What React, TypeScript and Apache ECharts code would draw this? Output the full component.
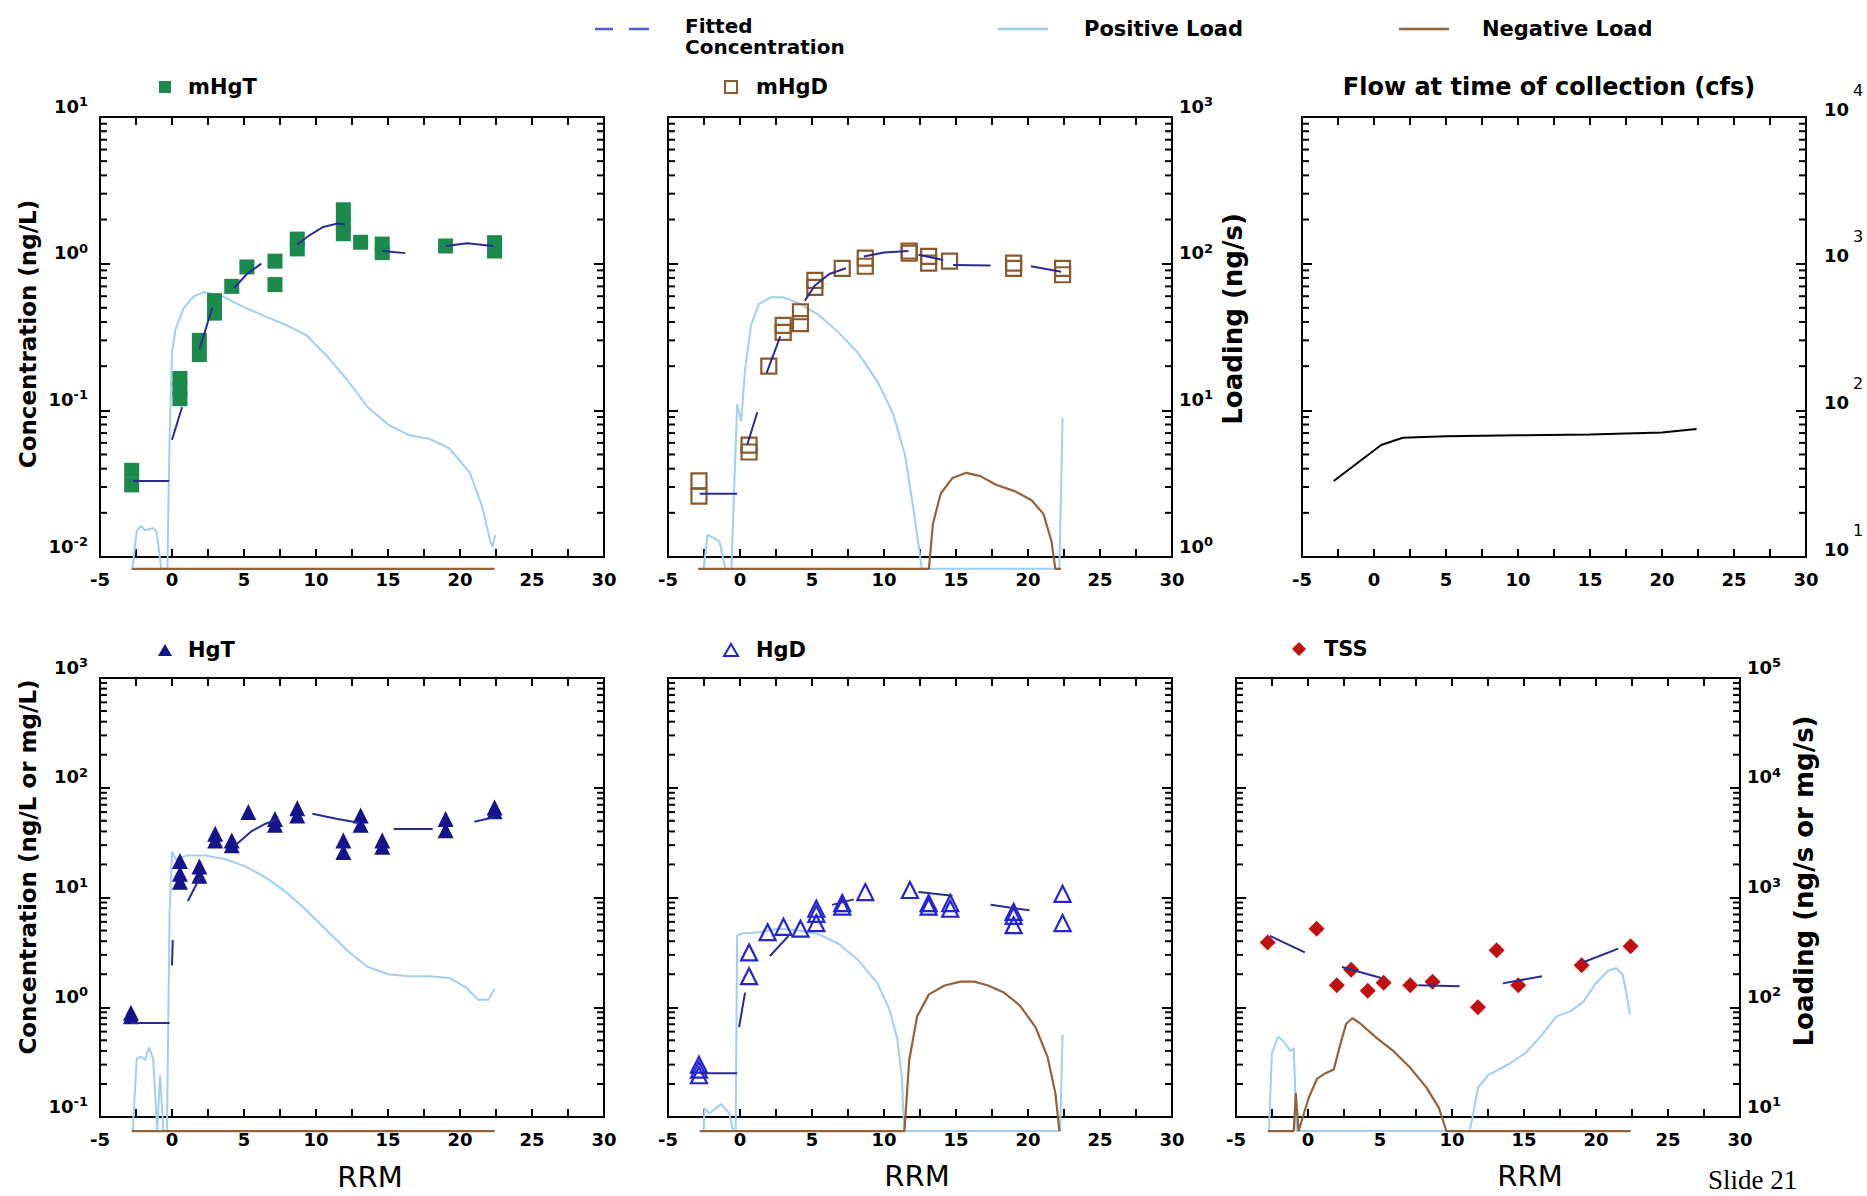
import React, { useEffect, useRef } from "react";
import * as echarts from "echarts";

type Pt = [number, number];

const FONT = "DejaVu Sans";

// ---------------- data (x = RRM) ----------------
const X_RANGE: Pt = [-5, 30];
const X_TICK_STEP = 2.5;
const X_LABEL_STEP = 5;

const CONC_TOP: Pt = [0.01, 10];
const LOAD_TOP: Pt = [1, 1000];
const FLOW_RANGE: Pt = [10, 10000];
const CONC_BOT: Pt = [0.1, 1000];
const LOAD_BOT: Pt = [10, 100000];
// a load of zero is drawn just beneath each frame
const ZERO_TOP = 0.83;
const ZERO_BOT = 7.45;

const MHGT_POINTS: Pt[] = [
  [-2.8, 0.039], [-2.8, 0.031], [0.55, 0.165], [0.55, 0.14], [0.55, 0.12],
  [1.9, 0.3], [1.9, 0.24], [2.95, 0.56], [2.95, 0.46], [4.15, 0.7], [5.2, 0.95],
  [7.15, 1.04], [7.15, 0.72], [8.7, 1.47], [8.7, 1.26], [11.9, 2.33], [11.9, 1.88],
  [11.9, 1.6], [13.1, 1.4], [14.6, 1.36], [14.6, 1.19], [19.0, 1.32], [22.4, 1.39], [22.4, 1.22],
];
const MHGT_FIT: (Pt | null)[] = [
  [-2.7, 0.033], [-0.2, 0.033], null, [0.0, 0.063], [0.7, 0.105], null,
  [1.9, 0.26], [2.8, 0.5], null, [4.3, 0.68], [5.2, 0.85], [6.2, 1.0], null,
  [8.7, 1.35], [9.5, 1.55], [10.5, 1.78], [11.5, 1.88], [12.0, 1.86], null,
  [14.6, 1.22], [16.2, 1.18], null, [19.0, 1.32], [20.5, 1.38], [22.3, 1.32],
];
const MHGT_POS: Pt[] = [
  [-2.75, 0], [-2.45, 1.5], [-2.16, 1.63], [-1.88, 1.52], [-1.3, 1.57], [-1.08, 1.5],
  [-0.74, 0], [-0.32, 0], [-0.17, 6.4], [0.0, 24.8], [0.25, 36], [0.82, 50], [1.53, 60],
  [2.24, 64], [2.95, 62], [3.66, 59], [5.08, 50], [6.5, 43.7], [7.92, 38.2], [9.33, 32.5],
  [10.75, 23.5], [12.17, 16.1], [13.59, 10.5], [15.0, 8.0], [16.43, 6.8], [17.85, 6.4],
  [19.27, 5.5], [20.69, 3.75], [21.54, 2.2], [22.1, 1.28], [22.25, 1.18], [22.45, 1.42],
];
const MHGT_NEG: Pt[] = [[-2.8, 0], [22.4, 0]];

const MHGD_POINTS: Pt[] = [
  [-2.85, 0.033], [-2.85, 0.026], [0.63, 0.058], [0.63, 0.052], [2.0, 0.2], [3.0, 0.38],
  [3.0, 0.34], [4.2, 0.47], [4.2, 0.39], [5.2, 0.77], [5.2, 0.69], [7.1, 0.93], [8.7, 1.09],
  [8.7, 0.96], [11.75, 1.22], [11.75, 1.18], [13.1, 1.12], [13.1, 1.01], [14.55, 1.04],
  [19.0, 1.01], [19.0, 0.93], [22.4, 0.93], [22.4, 0.84],
];
const MHGD_FIT: (Pt | null)[] = [
  [-2.8, 0.027], [-0.2, 0.027], null, [0.5, 0.058], [1.2, 0.097], null,
  [1.85, 0.18], [2.8, 0.32], null, [4.5, 0.56], [5.2, 0.71], [6.2, 0.85], [7.35, 0.93], null,
  [8.6, 1.12], [10.0, 1.19], [11.7, 1.22], null, [12.4, 1.15], [14.1, 1.06], null,
  [14.8, 0.98], [17.4, 0.97], null, [20.2, 0.96], [22.3, 0.88],
];
const MHGD_POS: Pt[] = [
  [-2.53, 0], [-2.25, 1.42], [-1.84, 1.35], [-1.43, 1.28], [-1.02, 0], [-0.6, 0],
  [-0.2, 11.0], [0.08, 8.4], [0.35, 18.9], [0.76, 38], [1.31, 53], [2.14, 59], [2.96, 59],
  [4.06, 54], [5.43, 45], [6.8, 34.3], [8.18, 24.8], [9.55, 15.7], [10.65, 9.4],
  [11.47, 4.9], [12.02, 2.19], [12.43, 1.15], [12.62, 0], [22.18, 0], [22.4, 8.9],
];
const MHGD_NEG: Pt[] = [
  [-2.9, 0], [13.12, 0], [13.39, 1.67], [13.94, 2.71], [14.76, 3.46], [15.72, 3.75],
  [16.69, 3.56], [17.78, 3.11], [19.16, 2.79], [20.25, 2.44], [21.08, 1.96], [21.63, 1.28],
  [21.9, 0], [22.3, 0],
];

const FLOW_X = [-2.8, 0.5, 2.0, 5, 10, 15, 20, 22.4];
const FLOW_CFS = [33, 58, 65, 66.5, 67.5, 68.5, 70.5, 74.5];

const HGT_POINTS: Pt[] = [
  [-2.85, 0.89], [-2.85, 0.83], [0.55, 21.5], [0.55, 16.5], [0.55, 13.9], [1.9, 19.2],
  [1.9, 15.8], [3.0, 38], [3.0, 33], [4.15, 33], [4.15, 30], [5.3, 60], [7.15, 52],
  [7.15, 46], [8.7, 65], [8.7, 56], [11.9, 33], [11.9, 26], [13.1, 56], [13.1, 46],
  [14.6, 33], [14.6, 29], [19.0, 52], [19.0, 41], [22.4, 66], [22.4, 61],
];
const HGT_FIT: (Pt | null)[] = [
  [-2.85, 0.72], [-0.17, 0.72], null, [0.0, 2.4], [0.05, 4.1], null, [1.1, 9.3], [1.95, 15.3], null,
  [4.4, 30], [5.5, 40], [6.5, 47], [7.35, 52], null, [9.75, 58], [11.5, 52], [13.0, 48], null,
  [15.4, 42], [18.1, 42], null, [21.0, 49], [22.4, 54],
];
const HGT_POS: Pt[] = [
  [-2.73, 0], [-2.45, 34], [-2.16, 35.5], [-1.88, 33], [-1.59, 43], [-1.31, 34], [-1.03, 0],
  [-0.83, 24], [-0.6, 0], [-0.35, 0], [-0.17, 708], [0.0, 2610], [0.25, 2240], [1.1, 2420],
  [2.24, 2420], [3.66, 2240], [5.08, 1920], [6.5, 1525], [7.92, 1120], [9.33, 764],
  [10.75, 501], [12.17, 329], [13.59, 233], [15.0, 200], [16.43, 192], [17.85, 192],
  [19.27, 185], [20.4, 152], [21.26, 117], [21.97, 117], [22.39, 147],
];
const HGT_NEG: Pt[] = [[-2.8, 0], [22.4, 0]];

const HGD_POINTS: Pt[] = [
  [-2.85, 0.3], [-2.85, 0.27], [-2.85, 0.24], [0.63, 3.16], [0.63, 1.92], [1.92, 4.83],
  [3.02, 5.41], [4.2, 5.2], [5.3, 7.9], [5.3, 7.1], [5.3, 5.85], [7.1, 8.9], [7.1, 8.25],
  [8.7, 11.2], [11.8, 11.7], [13.1, 8.9], [13.1, 8.25], [14.6, 8.9], [14.6, 7.9],
  [19.0, 7.4], [19.0, 6.8], [19.0, 5.6], [22.4, 10.8], [22.4, 5.85],
];
const HGD_FIT: (Pt | null)[] = [
  [-2.8, 0.25], [-0.2, 0.25], null, [-0.06, 0.66], [0.35, 1.36], null,
  [2.08, 2.93], [3.37, 4.47], null, [6.4, 8.57], [7.9, 9.62], null,
  [12.4, 11.2], [14.76, 10.4], null, [17.4, 8.57], [20.1, 7.64],
];
const HGD_POS: Pt[] = [
  [-2.53, 0], [-2.47, 12.1], [-2.12, 10.8], [-1.3, 13.1], [-0.75, 10.8], [-0.47, 0],
  [-0.3, 0], [-0.2, 447], [0.1, 470], [1.31, 483], [2.69, 521], [4.06, 501], [5.43, 464],
  [6.8, 383], [8.18, 271], [9.55, 165], [10.37, 96], [10.92, 52], [11.25, 22.4],
  [11.39, 0], [22.23, 0], [22.4, 56],
];
const HGD_NEG: Pt[] = [
  [-2.8, 0], [11.42, 0], [11.75, 32.9], [12.3, 82.6], [13.12, 131], [14.21, 158],
  [15.31, 171], [16.27, 171], [17.23, 158], [18.33, 136], [19.43, 104], [20.53, 65.6],
  [21.35, 35.5], [21.9, 16.5], [22.18, 0],
];

const TSS_POINTS: Pt[] = [
  [-2.8, 3.9], [0.6, 5.2], [2.0, 1.59], [3.0, 2.2], [4.15, 1.41], [5.25, 1.67], [7.1, 1.59],
  [8.65, 1.71], [11.8, 1.0], [13.1, 3.3], [14.6, 1.59], [19.0, 2.42], [22.4, 3.6],
];
const TSS_FIT: (Pt | null)[] = [
  [-2.65, 4.47], [-0.22, 3.16], null, [2.36, 2.33], [5.08, 1.85], null,
  [7.66, 1.59], [10.53, 1.55], null, [13.53, 1.65], [16.25, 1.92], null,
  [19.12, 2.57], [21.55, 3.42],
];
const TSS_POS: Pt[] = [
  [-2.71, 0], [-2.51, 38], [-2.08, 54], [-1.65, 48], [-1.22, 40], [-0.99, 42.5],
  [-0.79, 0], [11.24, 0], [11.81, 18.5], [12.53, 24.2], [13.96, 30.4], [15.11, 38.3],
  [16.25, 56], [17.26, 82.6], [18.26, 92.6], [19.12, 112], [19.98, 165], [20.84, 215],
  [21.41, 227], [21.84, 200], [22.13, 131], [22.36, 86],
];
const TSS_NEG: Pt[] = [
  [-2.79, 0], [-0.99, 0], [-0.85, 16.5], [-0.65, 0], [-0.36, 10], [0.07, 15.2],
  [0.64, 22.4], [1.22, 25.1], [1.79, 27.1], [2.22, 44.7], [2.65, 70.8], [3.08, 79.4],
  [3.65, 70.8], [4.8, 52.1], [5.94, 39.8], [7.09, 28.2], [8.23, 18.5], [9.09, 12.1],
  [9.61, 0], [22.41, 0],
];

// ---------------- styles / layout ----------------
const C_FIT = "#2a2a96";
const C_POS = "#a0cff0";
const C_NEG = "#94623a";
const C_LEG_FIT = "#5a5acc";
const MINOR_TICK_LEN = 7;

type Panel = {
  grid: { left: number; top: number; width: number; height: number };
  left: Pt;
  right: Pt;
  leftLabels: boolean;
  rightLabels: "none" | "pow" | "flow";
  zero: number;
  points?: Pt[];
  fit?: (Pt | null)[];
  pos?: Pt[];
  neg?: Pt[];
  symbol?: any;
};

const PANELS: Panel[] = [
  {
    grid: { left: 100, top: 117, width: 504, height: 440 }, left: CONC_TOP, right: LOAD_TOP,
    leftLabels: true, rightLabels: "none", zero: ZERO_TOP,
    points: MHGT_POINTS, fit: MHGT_FIT, pos: MHGT_POS, neg: MHGT_NEG,
    symbol: { symbol: "rect", symbolSize: 15, itemStyle: { color: "#1b8a4c", opacity: 1 } },
  },
  {
    grid: { left: 668, top: 117, width: 504, height: 440 }, left: CONC_TOP, right: LOAD_TOP,
    leftLabels: false, rightLabels: "pow", zero: ZERO_TOP,
    points: MHGD_POINTS, fit: MHGD_FIT, pos: MHGD_POS, neg: MHGD_NEG,
    symbol: { symbol: "rect", symbolSize: 15, itemStyle: { color: "rgba(0,0,0,0)", borderColor: "#8a5a2e", borderWidth: 2.2, opacity: 1 } },
  },
  {
    grid: { left: 1302, top: 117, width: 504, height: 440 }, left: FLOW_RANGE, right: FLOW_RANGE,
    leftLabels: false, rightLabels: "flow", zero: ZERO_TOP,
  },
  {
    grid: { left: 100, top: 678, width: 504, height: 439 }, left: CONC_BOT, right: LOAD_BOT,
    leftLabels: true, rightLabels: "none", zero: ZERO_BOT,
    points: HGT_POINTS, fit: HGT_FIT, pos: HGT_POS, neg: HGT_NEG,
    symbol: { symbol: "triangle", symbolSize: 16, itemStyle: { color: "#14148c", opacity: 1 } },
  },
  {
    grid: { left: 668, top: 678, width: 504, height: 439 }, left: CONC_BOT, right: LOAD_BOT,
    leftLabels: false, rightLabels: "none", zero: ZERO_BOT,
    points: HGD_POINTS, fit: HGD_FIT, pos: HGD_POS, neg: HGD_NEG,
    symbol: { symbol: "triangle", symbolSize: 16, itemStyle: { color: "rgba(0,0,0,0)", borderColor: "#2424d4", borderWidth: 2.2, opacity: 1 } },
  },
  {
    grid: { left: 1236, top: 678, width: 504, height: 439 }, left: CONC_BOT, right: LOAD_BOT,
    leftLabels: false, rightLabels: "pow", zero: ZERO_BOT,
    points: TSS_POINTS, fit: TSS_FIT, pos: TSS_POS, neg: TSS_NEG,
    symbol: { symbol: "diamond", symbolSize: 16, itemStyle: { color: "#c01010", opacity: 1 } },
  },
];

function minorValues(range: Pt): number[] {
  const out: number[] = [];
  const e0 = Math.round(Math.log10(range[0]));
  const e1 = Math.round(Math.log10(range[1]));
  for (let e = e0; e < e1; e++) {
    for (let k = 2; k <= 9; k++) out.push(parseFloat((k * Math.pow(10, e)).toPrecision(6)));
  }
  return out;
}

const powFormatter = (v: number) => `{b|10}{s|${Math.round(Math.log10(v))}}`;
const powRich = {
  b: { fontFamily: FONT, fontWeight: "bold", fontSize: 18, lineHeight: 22, color: "#000" },
  s: { fontFamily: FONT, fontWeight: "bold", fontSize: 13, lineHeight: 13, verticalAlign: "top", color: "#000" },
};
const flowFormatter = (v: number) => `{s|${Math.round(Math.log10(v))}}\n{b|10}`;
const flowRich = {
  b: { fontFamily: FONT, fontWeight: "bold", fontSize: 18, lineHeight: 16, color: "#000" },
  s: { fontFamily: FONT, fontWeight: "normal", fontSize: 16, lineHeight: 22, padding: [0, 0, 0, 29], color: "#000" },
};

function yAxes(p: Panel, gi: number) {
  const line = { show: true, onZero: false, lineStyle: { color: "#000", width: 2 } };
  const majorTick = { show: true, inside: true, length: 10, lineStyle: { color: "#000", width: 2 } };
  const base = {
    type: "log", logBase: 10, gridIndex: gi, splitLine: { show: false },
    axisLine: line, axisTick: majorTick,
  };
  const leftLabel = p.leftLabels
    ? { show: true, margin: 12, verticalAlign: "bottom", formatter: powFormatter, rich: powRich }
    : { show: false };
  let rightLabel: any = { show: false };
  if (p.rightLabels === "pow")
    rightLabel = { show: true, margin: 7, verticalAlign: "bottom", formatter: powFormatter, rich: powRich };
  if (p.rightLabels === "flow")
    rightLabel = { show: true, margin: 18, align: "left", verticalAlign: "bottom", formatter: flowFormatter, rich: flowRich };
  return [
    { ...base, position: "left", min: p.left[0], max: p.left[1], axisLabel: leftLabel },
    { ...base, position: "right", min: p.right[0], max: p.right[1], axisLabel: rightLabel },
  ];
}

function xAxes(gi: number) {
  const common = {
    type: "value", gridIndex: gi, min: X_RANGE[0], max: X_RANGE[1], interval: X_TICK_STEP,
    axisLine: { show: true, onZero: false, lineStyle: { color: "#000", width: 2 } },
    axisTick: { show: true, inside: true, length: 8, lineStyle: { color: "#000", width: 2 } },
    splitLine: { show: false },
  };
  return [
    {
      ...common, position: "bottom",
      axisLabel: {
        show: true, margin: 13, color: "#000", fontFamily: FONT, fontWeight: "bold", fontSize: 18,
        formatter: (v: number) => (Math.abs(v % X_LABEL_STEP) < 1e-9 ? String(v) : ""),
      },
    },
    { ...common, position: "top", axisLabel: { show: false } },
  ];
}

// minor (2..9) log ticks, placed through the axis scale as thin bar symbols on the frame
function minorTickSeries(xi: number, yi: number, range: Pt, side: "left" | "right") {
  const xEdge = side === "left" ? X_RANGE[0] : X_RANGE[1];
  const off = side === "left" ? MINOR_TICK_LEN / 2 : -MINOR_TICK_LEN / 2;
  return {
    type: "scatter", xAxisIndex: xi, yAxisIndex: yi, z: 6, silent: true, clip: false,
    data: minorValues(range).map((v) => [xEdge, v]),
    symbol: "rect", symbolSize: [MINOR_TICK_LEN, 2], symbolOffset: [off, 0],
    itemStyle: { color: "#000", opacity: 1 },
    emphasis: { disabled: true },
  };
}

const toLoad = (pts: Pt[], zero: number) => pts.map(([x, y]) => [x, y === 0 ? zero : y]);
const toFit = (pts: (Pt | null)[]) => pts.map((p) => (p ? p : ["-", "-"]));

function txt(text: string, x: number, y: number, size: number, opts: any = {}) {
  const align = opts.align || "left";
  const valign = opts.valign || "middle";
  return {
    type: "text", x, y, rotation: opts.rotation || 0, z: 100,
    style: {
      text, fill: "#000", fontFamily: opts.family || FONT, fontWeight: opts.weight || "bold", fontSize: size,
      lineHeight: opts.lineHeight, align, verticalAlign: valign, textAlign: align, textVerticalAlign: valign,
    },
  };
}

function buildOption() {
  const grid: any[] = [];
  const xAxis: any[] = [];
  const yAxis: any[] = [];
  const series: any[] = [];
  PANELS.forEach((p, i) => {
    grid.push({ ...p.grid, containLabel: false });
    xAxis.push(...xAxes(i));
    yAxis.push(...yAxes(p, i));
    const xi = 2 * i;
    const yl = 2 * i;
    const yr = 2 * i + 1;
    series.push(minorTickSeries(xi, yl, p.left, "left"));
    series.push(minorTickSeries(xi, yr, p.right, "right"));
    if (p.pos) {
      series.push({
        name: "Positive Load", type: "line", xAxisIndex: xi, yAxisIndex: yr, data: toLoad(p.pos, p.zero),
        symbol: "none", showSymbol: false, clip: false, z: 2, lineStyle: { color: C_POS, width: 2 },
      });
    }
    if (p.neg) {
      series.push({
        name: "Negative Load", type: "line", xAxisIndex: xi, yAxisIndex: yr, data: toLoad(p.neg, p.zero),
        symbol: "none", showSymbol: false, clip: false, z: 3, lineStyle: { color: C_NEG, width: 2.2 },
      });
    }
    if (p.points) {
      series.push({
        type: "scatter", xAxisIndex: xi, yAxisIndex: yl, data: p.points, z: 4, ...p.symbol,
      });
    }
    if (p.fit) {
      series.push({
        name: "Fitted Concentration", type: "line", xAxisIndex: xi, yAxisIndex: yl, data: toFit(p.fit),
        symbol: "none", showSymbol: false, connectNulls: false, z: 5, lineStyle: { color: C_FIT, width: 2 },
      });
    }
    if (i === 2) {
      series.push({
        name: "Flow", type: "line", xAxisIndex: xi, yAxisIndex: yr,
        data: FLOW_X.map((x, k) => [x, FLOW_CFS[k]]),
        symbol: "none", showSymbol: false, z: 4, lineStyle: { color: "#000", width: 2 },
      });
    }
  });

  const graphic: any[] = [
    // top legend
    { type: "line", shape: { x1: 595, y1: 29, x2: 613, y2: 29 }, style: { stroke: C_LEG_FIT, lineWidth: 2.5 } },
    { type: "line", shape: { x1: 629, y1: 29, x2: 649, y2: 29 }, style: { stroke: C_LEG_FIT, lineWidth: 2.5 } },
    txt("Fitted\nConcentration", 685, 36, 20, { lineHeight: 21 }),
    { type: "line", shape: { x1: 998, y1: 29, x2: 1048, y2: 29 }, style: { stroke: C_POS, lineWidth: 2.5 } },
    txt("Positive Load", 1084, 29, 21),
    { type: "line", shape: { x1: 1399, y1: 29, x2: 1449, y2: 29 }, style: { stroke: C_NEG, lineWidth: 2.5 } },
    txt("Negative Load", 1482, 29, 21),
    // panel titles
    { type: "rect", shape: { x: 159, y: 81, width: 12, height: 12 }, style: { fill: "#1b8a4c" } },
    txt("mHgT", 188, 87, 21),
    { type: "rect", shape: { x: 725, y: 81, width: 12, height: 12 }, style: { fill: "none", stroke: "#8a5a2e", lineWidth: 2 } },
    txt("mHgD", 756, 87, 21),
    txt("Flow at time of collection (cfs)", 1549, 87, 24, { align: "center" }),
    { type: "polygon", shape: { points: [[158, 656], [172, 656], [165, 644]] }, style: { fill: "#14148c" } },
    txt("HgT", 188, 650, 21),
    { type: "polygon", shape: { points: [[724, 656], [738, 656], [731, 644]] }, style: { fill: "none", stroke: "#2424d4", lineWidth: 2 } },
    txt("HgD", 756, 650, 21),
    { type: "polygon", shape: { points: [[1299, 642], [1306, 649], [1299, 656], [1292, 649]] }, style: { fill: "#c01010" } },
    txt("TSS", 1324, 649, 21),
    // axis titles
    txt("Concentration (ng/L)", 28, 334, 23, { align: "center", rotation: Math.PI / 2 }),
    txt("Concentration (ng/L or mg/L)", 28, 867, 23, { align: "center", rotation: Math.PI / 2 }),
    txt("Loading (ng/s)", 1233, 319, 26, { align: "center", rotation: Math.PI / 2 }),
    txt("Loading (ng/s or mg/s)", 1804, 881, 26, { align: "center", rotation: Math.PI / 2 }),
    txt("RRM", 370, 1177, 29, { align: "center", weight: "normal" }),
    txt("RRM", 917, 1176, 29, { align: "center", weight: "normal" }),
    txt("RRM", 1530, 1176, 29, { align: "center", weight: "normal" }),
    txt("Slide 21", 1708, 1166, 27, { valign: "top", weight: "normal", family: "Liberation Serif" }),
  ];

  return {
    animation: false,
    backgroundColor: "#fff",
    grid,
    xAxis,
    yAxis,
    series,
    graphic,
  };
}

export default function App() {
  const ref = useRef<HTMLDivElement>(null);
  useEffect(() => {
    if (!ref.current) return;
    const chart = echarts.init(ref.current, undefined, { renderer: "svg" });
    chart.setOption(buildOption() as any);
    return () => chart.dispose();
  }, []);
  return (
    <div
      ref={ref}
      style={{ position: "absolute", left: 0, top: 0, width: 1867, height: 1196, background: "#fff" }}
    />
  );
}
